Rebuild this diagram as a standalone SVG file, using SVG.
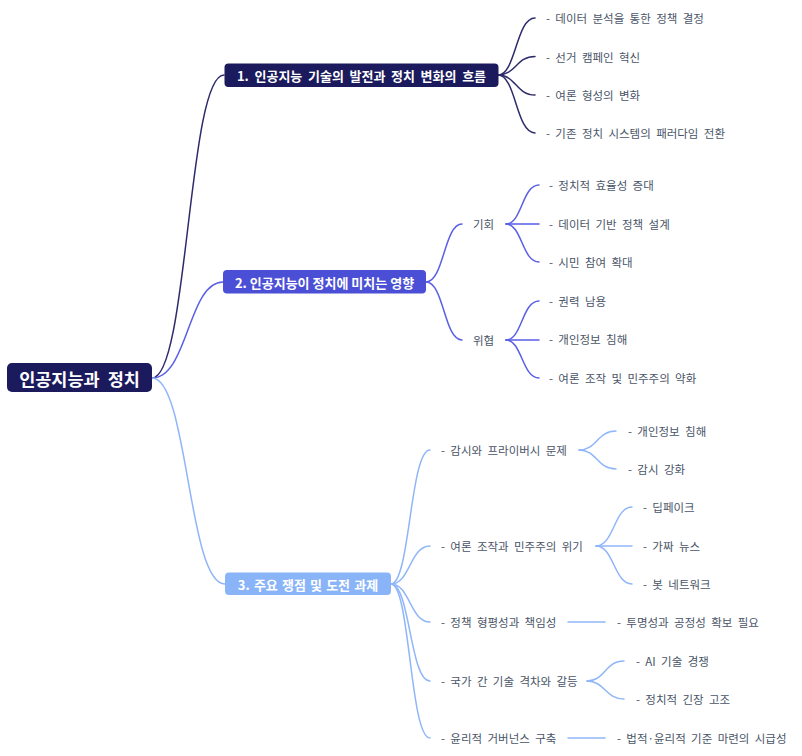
<svg xmlns="http://www.w3.org/2000/svg" width="802" height="756" viewBox="0 0 802 756">
<style>
text{font-family:"Noto Sans CJK KR","Noto Sans",sans-serif;dominant-baseline:central}
.leaf{font-size:11.5px;fill:#4a5568;word-spacing:2.8px}
.main{font-size:13px;font-weight:bold;fill:#ffffff;text-anchor:middle}
.root{font-size:17.5px;font-weight:bold;fill:#ffffff;text-anchor:middle;word-spacing:4px}
path{fill:none;stroke-width:1.5;stroke-linecap:round}
.k1{stroke:#2e2b6b}
.k2{stroke:#5a5fe6}
.k3{stroke:#8fb6f9}
.b1{fill:#1b1a5c}
.b2{fill:#4b4fd6}
.b3{fill:#8ab4f8}
</style>
<rect width="802" height="756" fill="#ffffff"/>
<g id="connectors">
<path class="k1" d="M152,378 C188,378 188,75 224,75" stroke-width="1.8"/>
<path class="k2" d="M152,378 C188,378 188,282 223,282" stroke-width="1.8"/>
<path class="k3" d="M152,378 C188,378 188,584 225,584" stroke-width="1.8"/>
<path class="k1" d="M498,75 C516,75 516,18 535,18"/>
<path class="k1" d="M498,75 C516,75 516,56.5 535,56.5"/>
<path class="k1" d="M498,75 C516,75 516,95 535,95"/>
<path class="k1" d="M498,75 C516,75 516,133 535,133"/>
<path class="k2" d="M426,282 C444,282 444,224 462,224"/>
<path class="k2" d="M426,282 C444,282 444,340 462,340"/>
<path class="k2" d="M506,224 C522,224 522,185 539,185"/>
<path class="k2" d="M506,224 L539,224"/>
<path class="k2" d="M506,224 C522,224 522,262 539,262"/>
<path class="k2" d="M506,340 C522,340 522,301 539,301"/>
<path class="k2" d="M506,340 L539,340"/>
<path class="k2" d="M506,340 C522,340 522,378 539,378"/>
<path class="k3" d="M391,584 C410,584 410,450 430,450"/>
<path class="k3" d="M391,584 C410,584 410,546 430,546"/>
<path class="k3" d="M391,584 C410,584 410,622 430,622"/>
<path class="k3" d="M391,584 C410,584 410,681 430,681"/>
<path class="k3" d="M391,584 C410,584 410,738 430,738"/>
<path class="k3" d="M579,450 C597,450 597,431 616,431"/>
<path class="k3" d="M579,450 C597,450 597,469 616,469"/>
<path class="k3" d="M596,546 C614,546 614,507 632,507"/>
<path class="k3" d="M596,546 L632,546"/>
<path class="k3" d="M596,546 C614,546 614,584 632,584"/>
<path class="k3" d="M568,622 L605,622"/>
<path class="k3" d="M587,681 C605,681 605,661 624,661"/>
<path class="k3" d="M587,681 C605,681 605,699 624,699"/>
<path class="k3" d="M568,738 L605,738"/>
</g>
<g id="root">
<rect class="b1" x="7" y="363" width="145" height="29" rx="5"/>
<text class="root" x="79.5" y="378">인공지능과 정치</text>
</g>
<g id="branch1">
<rect class="b1" x="224.5" y="63.5" width="274" height="23.5" rx="4"/>
<text class="main" x="361.5" y="75.5" style="word-spacing:2.7px">1. 인공지능 기술의 발전과 정치 변화의 흐름</text>
</g>
<g id="b1-leaves">
<text class="leaf" x="546" y="18">- 데이터 분석을 통한 정책 결정</text>
<text class="leaf" x="546" y="56.5">- 선거 캠페인 혁신</text>
<text class="leaf" x="546" y="95">- 여론 형성의 변화</text>
<text class="leaf" x="546" y="133">- 기존 정치 시스템의 패러다임 전환</text>
</g>
<g id="branch2">
<rect class="b2" x="223" y="270" width="203" height="23.5" rx="4"/>
<text class="main" x="324.5" y="282">2. 인공지능이 정치에 미치는 영향</text>
</g>
<g id="b2-opportunity">
<text class="leaf" x="473" y="224">기회</text>
<text class="leaf" x="549" y="185">- 정치적 효율성 증대</text>
<text class="leaf" x="549" y="224">- 데이터 기반 정책 설계</text>
<text class="leaf" x="549" y="262">- 시민 참여 확대</text>
</g>
<g id="b2-threat">
<text class="leaf" x="473" y="340">위협</text>
<text class="leaf" x="549" y="301">- 권력 남용</text>
<text class="leaf" x="549" y="339">- 개인정보 침해</text>
<text class="leaf" x="549" y="378">- 여론 조작 및 민주주의 약화</text>
</g>
<g id="branch3">
<rect class="b3" x="225" y="572.5" width="166" height="22.5" rx="4"/>
<text class="main" x="308" y="584" style="word-spacing:1.2px">3. 주요 쟁점 및 도전 과제</text>
</g>
<g id="b3-surveillance">
<text class="leaf" x="441" y="450">- 감시와 프라이버시 문제</text>
<text class="leaf" x="628" y="431">- 개인정보 침해</text>
<text class="leaf" x="628" y="469">- 감시 강화</text>
</g>
<g id="b3-manipulation">
<text class="leaf" x="441" y="546">- 여론 조작과 민주주의 위기</text>
<text class="leaf" x="643" y="507">- 딥페이크</text>
<text class="leaf" x="643" y="546">- 가짜 뉴스</text>
<text class="leaf" x="643" y="584">- 봇 네트워크</text>
</g>
<g id="b3-equity">
<text class="leaf" x="441" y="622">- 정책 형평성과 책임성</text>
<text class="leaf" x="617" y="622">- 투명성과 공정성 확보 필요</text>
</g>
<g id="b3-gap">
<text class="leaf" x="441" y="681">- 국가 간 기술 격차와 갈등</text>
<text class="leaf" x="636" y="661">- AI 기술 경쟁</text>
<text class="leaf" x="636" y="699">- 정치적 긴장 고조</text>
</g>
<g id="b3-ethics">
<text class="leaf" x="441" y="738">- 윤리적 거버넌스 구축</text>
<text class="leaf" x="617" y="738">- 법적·윤리적 기준 마련의 시급성</text>
</g>
</svg>
